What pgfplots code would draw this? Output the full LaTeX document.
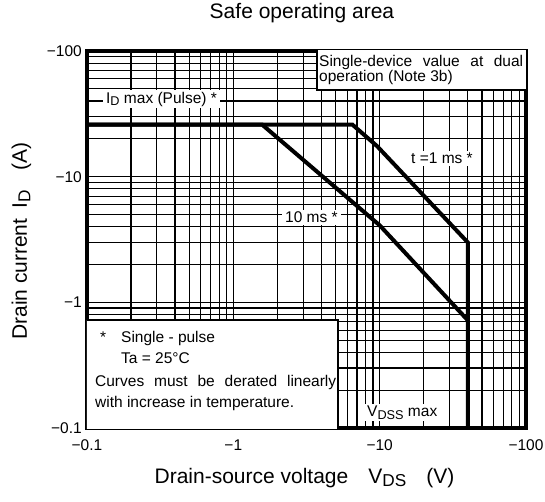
\documentclass[border=0pt]{standalone}
\usepackage{pgfplots}
\pgfplotsset{compat=1.18}
\usepackage{graphicx}
\usepackage{fontspec}
\setmainfont{Liberation Sans}
\newcommand{\fa}{\fontsize{15.5}{18}\selectfont}
\newcommand{\fb}{\fontsize{21}{25}\selectfont}
\newcommand{\sbs}[1]{\raisebox{-0.3ex}{\scalebox{0.82}{#1}}}
\begin{document}
\begin{tikzpicture}
\useasboundingbox (-87pt,-74pt) rectangle (458pt,428pt);
\begin{axis}[
 scale only axis, width=439pt, height=377pt,
 xmode=log, ymode=log, xmin=0.1, xmax=100, ymin=0.1, ymax=100,
 xtick={0.1,1,10,100}, xticklabels={−0.1,−1,−10,−100},
 ytick={0.1,1,10,100}, yticklabels={−0.1,−1,−10,−100},
 minor xtick={0.2,0.3,0.4,0.5,0.6,0.7,0.8,0.9,2,3,4,5,6,7,8,9,20,30,40,50,60,70,80,90},
 minor ytick={0.2,0.3,0.4,0.5,0.6,0.7,0.8,0.9,2,3,4,5,6,7,8,9,20,30,40,50,60,70,80,90},
 grid=both,
 major grid style={black, line width=1.5pt},
 minor grid style={black, line width=1.2pt},
 major tick length=0pt, minor tick length=0pt,
 axis line style={line width=3.3pt},
 tick label style={font=\fa},
 xticklabel style={anchor=base, yshift=-22pt, inner sep=0pt},
 yticklabel style={anchor=east, xshift=-5pt, inner sep=0pt},
 title={Safe operating area},
 title style={at={(axis description cs:0.4897,1)}, anchor=base, yshift=26pt, font=\fb, inner sep=0pt},
 xlabel={Drain-source voltage\hspace{20pt}V\sbs{DS}\hspace{20pt}(V)},
 xlabel style={at={(axis description cs:0.4954,0)}, anchor=base, yshift=-55pt, font=\fb, inner sep=0pt},
 ylabel={Drain current\hspace{10pt}I\sbs{D}\hspace{20pt}(A)},
 ylabel style={at={(axis description cs:-0.1367,0.496)}, anchor=base, font=\fb, inner sep=0pt},
]
% t = 1 ms
\addplot[black, line width=4pt, line join=miter] coordinates {(0.1,26) (6.5,26) (9.6,17.5) (40,3.0) (40,0.1)};
% 10 ms
\addplot[black, line width=4pt, line join=miter] coordinates {(0.1,26) (1.57,26) (10,4.1) (40,0.72)};

% top-right note box
\draw[line width=2.7pt, fill=white] (rel axis cs:0.524,0.8966) rectangle (rel axis cs:1.01,1.01);
\node[anchor=base west, inner sep=0pt, font=\fa] at (rel axis cs:0.5285,0.9584) {\makebox[204pt][s]{Single-device value at dual}};
\node[anchor=base west, inner sep=0pt, font=\fa] at (rel axis cs:0.5285,0.9186) {operation (Note 3b)};

% bottom-left note box
\draw[line width=2.7pt, fill=white] (rel axis cs:-0.01,-0.01) rectangle (rel axis cs:0.5718,0.2865);
\node[anchor=base west, inner sep=0pt, font=\fa] at (rel axis cs:0.0296,0.2255) {*};
\node[anchor=base west, inner sep=0pt, font=\fa] at (rel axis cs:0.0774,0.2255) {Single - pulse};
\node[anchor=base west, inner sep=0pt, font=\fa] at (rel axis cs:0.0774,0.1711) {Ta = 25°C};
\node[anchor=base west, inner sep=0pt, font=\fa] at (rel axis cs:0.0182,0.1114) {\makebox[241pt][s]{Curves must be derated linearly}};
\node[anchor=base west, inner sep=0pt, font=\fa] at (rel axis cs:0.0182,0.0557) {with increase in temperature.};

% curve labels
\node[anchor=base west, inner xsep=3pt, inner ysep=2pt, fill=white, font=\fa] at (rel axis cs:0.0364,0.862) {I\sbs{D} max (Pulse) *};
\node[anchor=base west, inner xsep=3pt, inner ysep=2pt, fill=white, font=\fa] at (rel axis cs:0.7312,0.7003) {t =1 ms *};
\node[anchor=base west, inner xsep=3pt, inner ysep=2pt, fill=white, font=\fa] at (rel axis cs:0.4442,0.5446) {10 ms *};
\node[anchor=base west, inner xsep=3pt, inner ysep=2pt, fill=white, font=\fa] at (rel axis cs:0.631,0.030) {V\sbs{DSS} max};
\end{axis}
\end{tikzpicture}
\end{document}
